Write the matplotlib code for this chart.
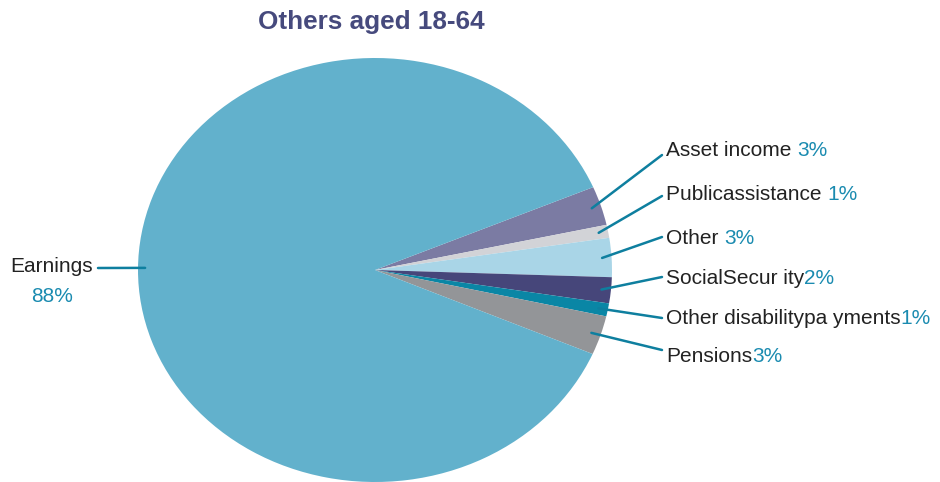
import numpy as np
import matplotlib.pyplot as plt

plt.rcParams['font.family'] = ['Liberation Sans', 'DejaVu Sans']

# income sources, clockwise from the upper right
names = ['Asset income ', 'Publicassistance ', 'Other ', 'SocialSecur ity',
         'Other disabilitypa yments', 'Pensions', 'Earnings']
shares = [3, 1, 3, 2, 1, 3, 88]
colors = ['#7b7ba3', '#d2d3d7', '#a9d5e7', '#46467a', '#0a86a5', '#939598', '#62b1cc']

W, H = 940, 482
fig = plt.figure(figsize=(W / 100, H / 100), dpi=100)
ax = fig.add_axes([138 / W, 0, 474 / W, 424 / H])

wedges, _ = ax.pie(shares, colors=colors, startangle=23, counterclock=False,
                   radius=1, wedgeprops=dict(linewidth=0))
ax.set_aspect('auto')
ax.set_xlim(-1, 1)
ax.set_ylim(-1, 1)

fig.text(371 / W, 1 - 22 / H, 'Others aged 18-64', ha='center', va='center',
         fontsize=18.8, fontweight='bold', color='#464a7d')

line_col = '#0e7f9f'
pct_col = '#1a8bb0'
txt_col = '#222222'
fs = 15

# label anchor points (pixels from top-left) for the small slices
label_y = [150, 194, 239, 278, 318, 356]
line_end_y = [155, 196, 237, 277, 318, 350]
label_x = 666
renderer = fig.canvas.get_renderer()

for i, w in enumerate(wedges[:-1]):
    mid = np.deg2rad((w.theta1 + w.theta2) / 2)
    r = 0.96
    ax.annotate('', xy=(r * np.cos(mid), r * np.sin(mid)), xycoords='data',
                xytext=((label_x - 4) / W, 1 - line_end_y[i] / H),
                textcoords='figure fraction',
                arrowprops=dict(arrowstyle='-', color=line_col, lw=1.8,
                                shrinkA=0, shrinkB=0))
    t = fig.text(label_x / W, 1 - label_y[i] / H, names[i], ha='left', va='center',
                 fontsize=fs, color=txt_col)
    bb = t.get_window_extent(renderer)
    fig.text(bb.x1 / W, 1 - label_y[i] / H, f'{shares[i]}%', ha='left', va='center',
             fontsize=fs, color=pct_col)

# earnings label on the left
ax.annotate('', xy=(-0.97, 0.01), xycoords='data',
            xytext=(98 / W, 1 - 268 / H), textcoords='figure fraction',
            arrowprops=dict(arrowstyle='-', color=line_col, lw=1.8,
                            shrinkA=0, shrinkB=0))
fig.text(10 / W, 1 - 267 / H, names[-1], ha='left', va='center',
         fontsize=fs, color=txt_col)
fig.text(52 / W, 1 - 296 / H, f'{shares[-1]}%', ha='center', va='center',
         fontsize=fs, color=pct_col)

fig.savefig('out.png', dpi=100)
